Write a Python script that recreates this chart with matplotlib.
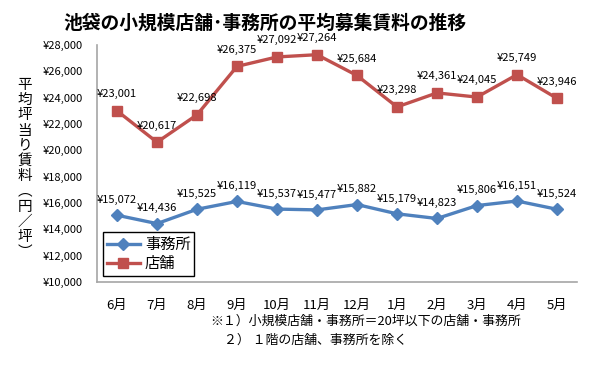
# 池袋の小規模店舗・事務所 平均募集賃料の推移
import matplotlib
matplotlib.use('Agg')
import matplotlib.pyplot as plt

plt.rcParams['font.family'] = ['Noto Sans CJK JP', 'DejaVu Sans']

# Data ----
months = ['6月', '7月', '8月', '9月', '10月', '11月', '12月', '1月', '2月', '3月', '4月', '5月']
office = [15072, 14436, 15525, 16119, 15537, 15477, 15882, 15179, 14823, 15806, 16151, 15524]
shop = [23001, 20617, 22698, 26375, 27092, 27264, 25684, 23298, 24361, 24045, 25749, 23946]
yticks = list(range(10000, 28001, 2000))

blue = '#4F81BD'
red = '#C0504D'

fig = plt.figure(figsize=(6.0, 3.66), dpi=100)
ax = fig.add_axes([97 / 600, 1 - 282 / 366, 480 / 600, 237 / 366])

x = list(range(len(months)))
ax.plot(x, office, color=blue, lw=2.4, marker='D', ms=6.5, label='事務所')
ax.plot(x, shop, color=red, lw=2.4, marker='s', ms=7.5, label='店舗')

for xi, v in zip(x, office):
    ax.annotate(f'¥{v:,}', (xi, v), xytext=(0, 11), textcoords='offset points',
                ha='center', va='center', fontsize=8)
for xi, v in zip(x, shop):
    ax.annotate(f'¥{v:,}', (xi, v), xytext=(0, 12), textcoords='offset points',
                ha='center', va='center', fontsize=8)

ax.set_xlim(-0.5, len(months) - 0.5)
ax.set_ylim(10000, 28000)
ax.set_yticks(yticks)
ax.set_yticklabels([f'¥{t:,}' for t in yticks], fontsize=8)
ax.set_xticks(x)
ax.set_xticklabels(months, fontsize=9.5)
ax.tick_params(axis='both', length=0)
ax.tick_params(axis='y', pad=10)
ax.tick_params(axis='x', pad=12)

for s in ['top', 'right']:
    ax.spines[s].set_visible(False)
for s in ['left', 'bottom']:
    ax.spines[s].set_color('#A6A6A6')
    ax.spines[s].set_linewidth(1.2)

leg = ax.legend(loc='lower left', bbox_to_anchor=(0.012, 0.025), fontsize=11,
                frameon=True, fancybox=False, edgecolor='black', framealpha=1,
                handlelength=2.2, borderpad=0.25, labelspacing=0.15,
                handletextpad=0.3, borderaxespad=0)
leg.get_frame().set_linewidth(1.0)

# Title
fig.text(265 / 600, 1 - 23 / 366, '池袋の小規模店舗･事務所の平均募集賃料の推移',
         ha='center', va='center', fontsize=13.5, fontweight='bold')

# Vertical y-axis label, one character per row
ylabel_chars = ['平', '均', '坪', '当', 'り', '賃', '料', '︵', '円', '／', '坪', '︶']
for i, ch in enumerate(ylabel_chars):
    fig.text(25 / 600, 1 - (85 + i * 15.2) / 366, ch, ha='center', va='center',
             fontsize=10.5)

# Footnotes
fig.text(210 / 600, 1 - 321 / 366, '※１）小規模店舗・事務所＝20坪以下の店舗・事務所',
         ha='left', va='center', fontsize=9.3)
fig.text(224 / 600, 1 - 340 / 366, '２） １階の店舗、事務所を除く',
         ha='left', va='center', fontsize=9.3)

fig.savefig('out.png', dpi=100)
